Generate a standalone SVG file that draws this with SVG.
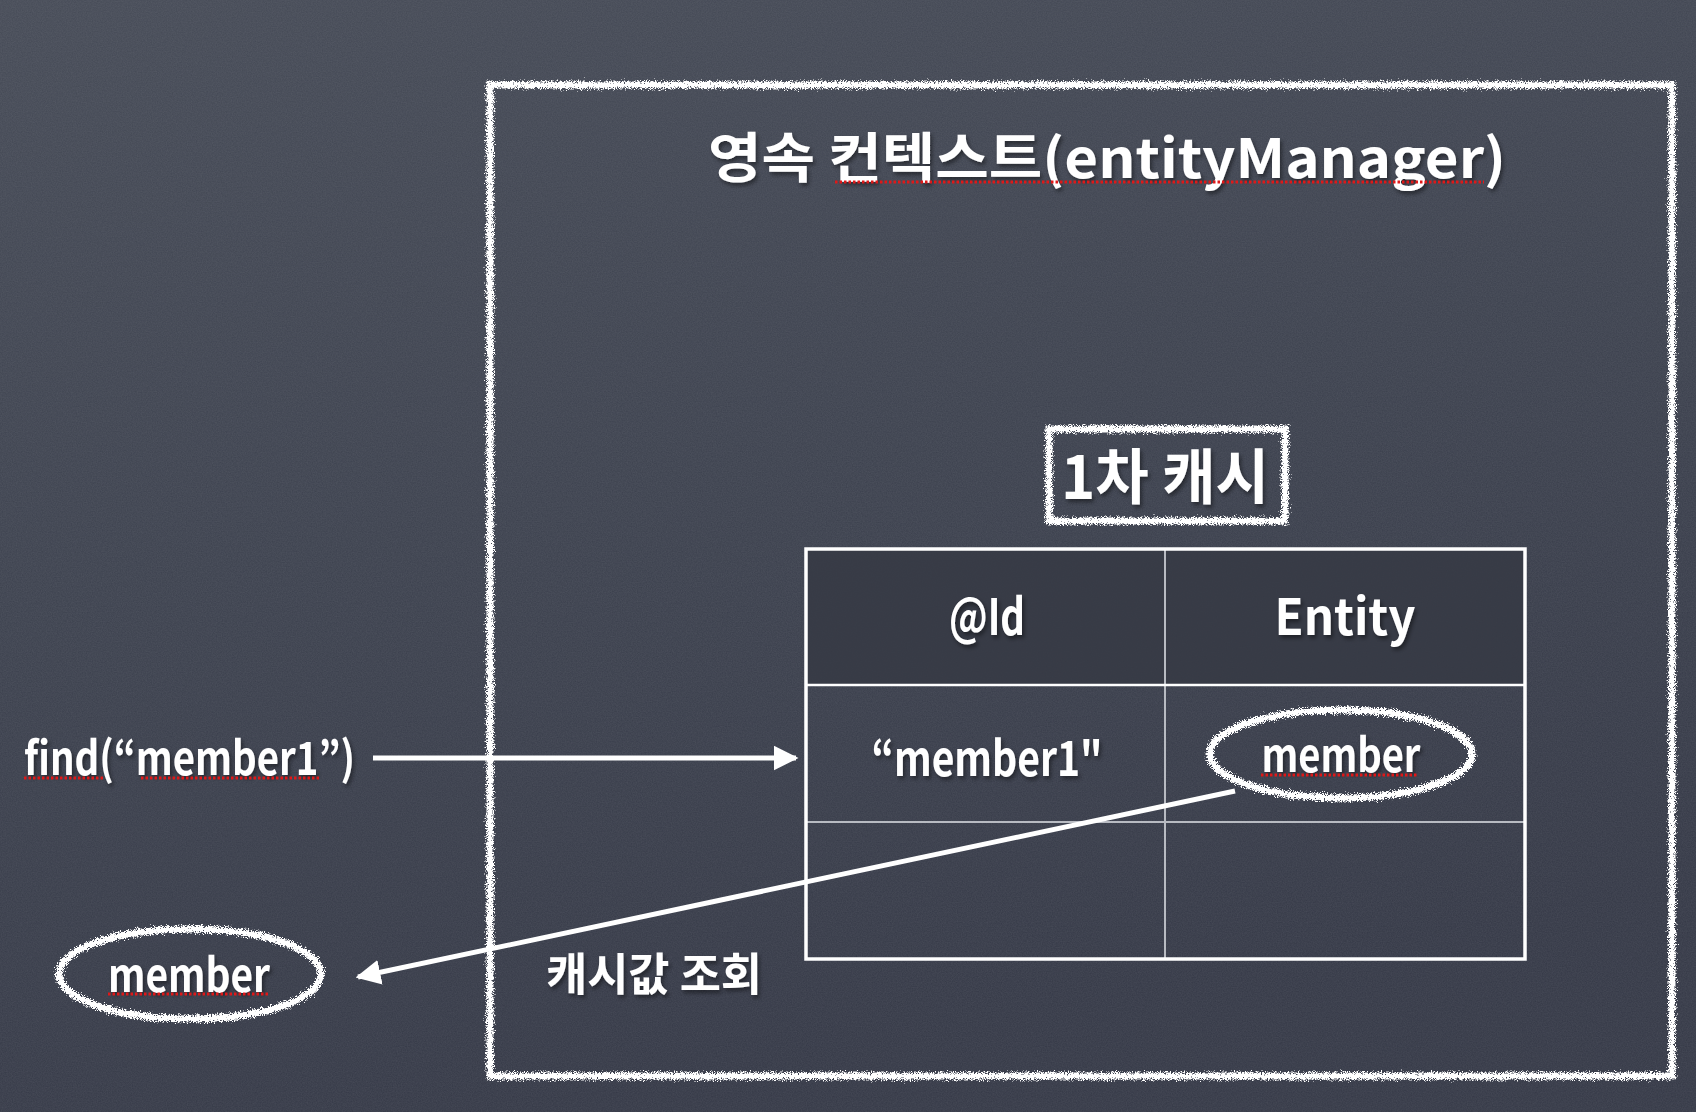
<svg xmlns="http://www.w3.org/2000/svg" width="1696" height="1112" viewBox="0 0 1696 1112">
<defs>
<style>
.t{font-family:"Noto Sans CJK KR","Noto Sans",sans-serif;font-weight:700;fill:#ffffff;filter:url(#shadow)}
.chalk{fill:none;stroke:#ffffff;filter:url(#chalk)}
.sq{stroke:#e01818;stroke-width:3;stroke-dasharray:2.5 2;fill:none}
.conn{stroke:#ffffff;stroke-width:5;fill:none}
</style>
<linearGradient id="bg" x1="0" y1="0" x2="0.3" y2="1">
<stop offset="0" stop-color="#454a56"/>
<stop offset="0.5" stop-color="#3c414e"/>
<stop offset="1" stop-color="#343846"/>
</linearGradient>
<filter id="noise" x="0" y="0" width="100%" height="100%">
<feTurbulence type="fractalNoise" baseFrequency="0.8" numOctaves="2" seed="3" result="n"/>
<feColorMatrix in="n" type="matrix" values="0 0 0 0 1  0 0 0 0 1  0 0 0 0 1  0 0 0 0.09 0"/>
</filter>
<filter id="chalk" x="-5%" y="-5%" width="110%" height="110%">
<feTurbulence type="fractalNoise" baseFrequency="1.3" numOctaves="2" seed="7" result="t"/>
<feDisplacementMap in="SourceGraphic" in2="t" scale="10" xChannelSelector="R" yChannelSelector="G"/>
</filter>
<filter id="shadow" x="-10%" y="-20%" width="120%" height="150%">
<feDropShadow dx="2" dy="3" stdDeviation="2" flood-color="#000000" flood-opacity="0.45"/>
</filter>
<marker id="ah" viewBox="0 0 10 10" refX="9" refY="5" markerWidth="5" markerHeight="5" orient="auto" markerUnits="strokeWidth">
<path d="M0,0 L10,5 L0,10 Z" fill="#ffffff"/>
</marker>
</defs>

<rect width="1696" height="1112" fill="url(#bg)"/>
<rect width="1696" height="1112" filter="url(#noise)"/>

<g id="persistence-context">
<rect class="chalk" x="490" y="85" width="1182" height="991" stroke-width="7"/>
<text class="t" x="1107" y="178" font-size="54" text-anchor="middle" textLength="798" lengthAdjust="spacingAndGlyphs">영속 컨텍스트(entityManager)</text>
<line class="sq" x1="835" y1="182" x2="1484" y2="182"/>
</g>

<g id="first-level-cache-label">
<rect class="chalk" x="1049" y="429" width="236" height="92" stroke-width="7"/>
<text class="t" x="1165" y="499" font-size="60" text-anchor="middle" textLength="208" lengthAdjust="spacingAndGlyphs">1차 캐시</text>
</g>

<g id="cache-table">
<rect x="806" y="549" width="719" height="136" fill="#363a44" opacity="0.85"/>
<line x1="1165" y1="549" x2="1165" y2="959" stroke="#b8bbc2" stroke-width="2"/>
<line x1="806" y1="822" x2="1525" y2="822" stroke="#b8bbc2" stroke-width="2"/>
<line x1="806" y1="685" x2="1525" y2="685" stroke="#ffffff" stroke-width="2.5"/>
<rect x="806" y="549" width="719" height="410" fill="none" stroke="#ffffff" stroke-width="3.5"/>
<text class="t" x="987" y="635" font-size="50" text-anchor="middle" textLength="76" lengthAdjust="spacingAndGlyphs">@Id</text>
<text class="t" x="1345" y="635" font-size="50" text-anchor="middle" textLength="141" lengthAdjust="spacingAndGlyphs">Entity</text>
<text class="t" x="987" y="776" font-size="48" text-anchor="middle" textLength="231" lengthAdjust="spacingAndGlyphs">“member1"</text>
</g>

<g id="cached-member">
<ellipse class="chalk" cx="1341" cy="754" rx="131" ry="44" stroke-width="7"/>
<text class="t" x="1341" y="772" font-size="46" text-anchor="middle" textLength="159" lengthAdjust="spacingAndGlyphs">member</text>
<line class="sq" x1="1261" y1="775" x2="1417" y2="775"/>
</g>

<g id="find-call">
<text class="t" x="24" y="775" font-size="46" textLength="331" lengthAdjust="spacingAndGlyphs">find(“member1”)</text>
<line class="sq" x1="24" y1="778" x2="104" y2="778"/>
<line class="sq" x1="141" y1="778" x2="320" y2="778"/>
</g>

<g id="result-member">
<ellipse class="chalk" cx="190" cy="974" rx="131" ry="45" stroke-width="7"/>
<text class="t" x="189" y="992" font-size="46" text-anchor="middle" textLength="162" lengthAdjust="spacingAndGlyphs">member</text>
<line class="sq" x1="108" y1="994" x2="268" y2="994"/>
</g>

<g id="lookup-label">
<text class="t" x="546" y="991" font-size="45" textLength="216" lengthAdjust="spacingAndGlyphs">캐시값 조회</text>
</g>

<g id="connectors">
<line class="conn" x1="373" y1="758" x2="796" y2="758" marker-end="url(#ah)"/>
<line class="conn" x1="1235" y1="791" x2="358" y2="977" marker-end="url(#ah)"/>
</g>
</svg>
